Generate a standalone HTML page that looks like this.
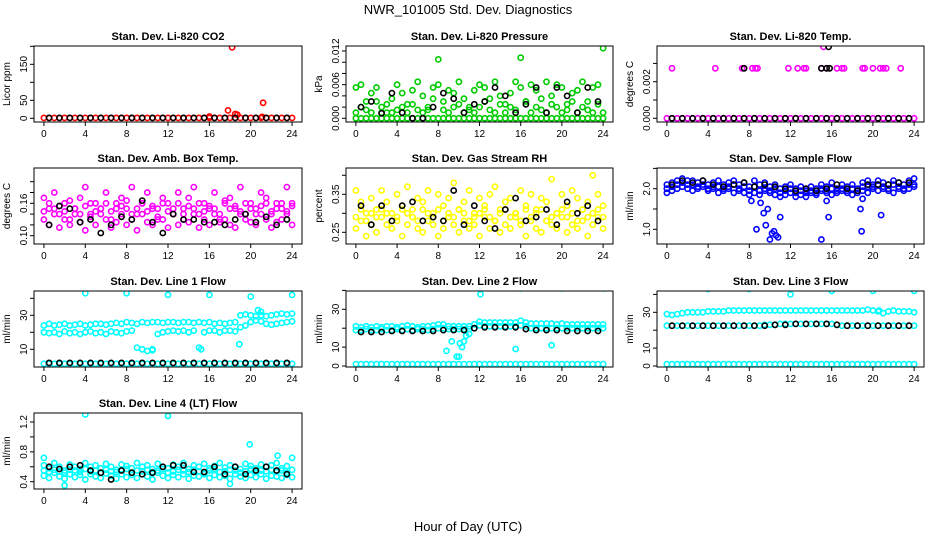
<!DOCTYPE html>
<html><head><meta charset="utf-8"><style>
html,body{margin:0;padding:0;background:#fff}
svg{display:block;font-family:"Liberation Sans",Arial,sans-serif}
</style></head><body>
<svg id="chart" width="936" height="540" viewBox="0 0 936 540" xmlns="http://www.w3.org/2000/svg">
<rect width="936" height="540" fill="#fff"/>
<text x="468" y="14" font-size="13" text-anchor="middle">NWR_101005 Std. Dev. Diagnostics</text>
<text x="468" y="531" font-size="13" text-anchor="middle">Hour of Day (UTC)</text>
</svg>
<script>
const hours=[0,0.5,1,1.5,2,2.5,3,3.5,4,4.5,5,5.5,6,6.5,7,7.5,8,8.5,9,9.5,10,10.5,11,11.5,12,12.5,13,13.5,14,14.5,15,15.5,16,16.5,17,17.5,18,18.5,19,19.5,20,20.5,21,21.5,22,22.5,23,23.5,24];
const hoursB=[0.5,1.5,2.5,3.5,4.5,5.5,6.5,7.5,8.5,9.5,10.5,11.5,12.5,13.5,14.5,15.5,16.5,17.5,18.5,19.5,20.5,21.5,22.5,23.5];
const xTicks=[0,4,8,12,16,20,24];

const co2=[1,1,1,1,1,1,1,1,1,1,1,1,1,1,1,1,1,1,1,1,1,1,1,1,1,1,1,1,1,1,1,1,1,1,1,1,1,1,1,1,1,1,1,1,1,1,1,1,1];
const co2OutX=[16,17.8,18.2,18.5,18.7,21.1,21.2];
const co2OutY=[5,22,197,12,10,4,43];
const co2Black=[1,1,1,1,1,1,1,1,1,1,1,1,1,1,1,1,1,1,1,1,1,1,1,1];
const pressZero=[0,0,0,0,0,0,0,0,0,0,0,0,0,0,0,0,0,0,0,0,0,0,0,0,0,0,0,0,0,0,0,0,0,0,0,0,0,0,0,0,0,0,0,0,0,0,0,0,0];
const pressA=[0.0055,0.006,0.003,0.0045,0.0055,0.002,0.001,0.0035,0.006,0.0045,0.0025,0.005,0.0065,0.004,0.0015,0.0055,0.006,0.003,0.005,0.0045,0.0065,0.0035,0.002,0.005,0.006,0.0055,0.0035,0.0065,0.004,0.0025,0.0045,0.0065,0.0055,0.003,0.006,0.005,0.0035,0.0065,0.004,0.006,0.0055,0.0025,0.0045,0.005,0.0065,0.003,0.0055,0.006,0.0125];
const pressB=[0.001,0.002,0.0015,0.001,0.003,0.001,0.0025,0.001,0.0015,0.002,0.001,0.0025,0.0015,0.001,0.002,0.0035,0.0105,0.0015,0.001,0.002,0.0025,0.001,0.0015,0.001,0.002,0.003,0.0015,0.001,0.0025,0.001,0.002,0.0015,0.0108,0.003,0.001,0.002,0.0015,0.001,0.0025,0.002,0.001,0.0015,0.003,0.001,0.002,0.0015,0.001,0.0025,0.001];
const pressBlack=[0.002,0.003,0.0009,0.0045,0.001,0,0,0.002,0.0045,0.0035,0.001,0.0025,0.003,0.0055,0.004,0.001,0.0025,0.0055,0.001,0.0055,0.004,0.001,0.0055,0.003];
const tempZero=pressZero;
const tempHiX=[0.5,4.7,7.3,8.3,8.6,8.8,11.8,12.7,13.3,13.5,15,15.5,16.5,17,17.2,19,19.2,20,20.7,21,21.3,22.7,15.2];
const tempHiY=[0.00273,0.00273,0.00273,0.00273,0.00273,0.00273,0.00273,0.00273,0.00273,0.00273,0.00273,0.00273,0.00273,0.00273,0.00273,0.00273,0.00273,0.00273,0.00273,0.00273,0.00273,0.00273,0.0039];
const tempBlack=[0,0,0,0,0,0,0,0,0,0,0,0,0,0,0,0,0,0,0,0,0,0,0,0];
const tempBlackHiX=[7.5,15,15.5,15.8,15.7];
const tempBlackHiY=[0.00273,0.00273,0.00273,0.00273,0.0039];
const ambA=[0.17,0.15,0.18,0.14,0.16,0.13,0.15,0.17,0.19,0.14,0.16,0.15,0.18,0.13,0.16,0.17,0.15,0.19,0.14,0.16,0.18,0.15,0.13,0.17,0.16,0.14,0.18,0.15,0.17,0.19,0.14,0.16,0.15,0.18,0.13,0.16,0.17,0.15,0.19,0.14,0.16,0.15,0.18,0.17,0.14,0.16,0.15,0.19,0.16];
const ambB=[0.13,0.12,0.14,0.115,0.13,0.12,0.14,0.125,0.11,0.135,0.12,0.14,0.13,0.115,0.125,0.14,0.12,0.13,0.11,0.14,0.125,0.12,0.135,0.13,0.115,0.14,0.12,0.13,0.125,0.14,0.115,0.13,0.12,0.14,0.125,0.13,0.12,0.115,0.14,0.13,0.125,0.12,0.14,0.13,0.115,0.125,0.13,0.14,0.12];
const ambC=[0.145,0.16,0.15,0.155,0.145,0.165,0.15,0.14,0.155,0.16,0.145,0.15,0.16,0.145,0.15,0.155,0.165,0.14,0.15,0.16,0.145,0.155,0.15,0.16,0.145,0.15,0.16,0.14,0.155,0.15,0.16,0.145,0.155,0.15,0.14,0.165,0.15,0.155,0.145,0.16,0.15,0.14,0.155,0.16,0.145,0.15,0.16,0.145,0.155];
const ambBlack=[0.12,0.155,0.15,0.125,0.13,0.105,0.12,0.135,0.13,0.165,0.125,0.105,0.14,0.13,0.13,0.125,0.125,0.12,0.13,0.14,0.125,0.135,0.12,0.13];
const rhA=[0.36,0.33,0.30,0.34,0.31,0.36,0.33,0.30,0.35,0.32,0.37,0.31,0.34,0.33,0.36,0.30,0.35,0.32,0.34,0.38,0.31,0.33,0.36,0.30,0.34,0.32,0.35,0.37,0.31,0.33,0.34,0.30,0.36,0.32,0.35,0.31,0.34,0.33,0.39,0.30,0.35,0.32,0.36,0.34,0.31,0.33,0.40,0.35,0.32];
const rhB=[0.26,0.28,0.24,0.27,0.25,0.29,0.27,0.26,0.28,0.24,0.27,0.29,0.26,0.25,0.28,0.27,0.24,0.26,0.29,0.27,0.25,0.28,0.26,0.27,0.24,0.29,0.26,0.28,0.25,0.27,0.26,0.29,0.27,0.24,0.28,0.26,0.25,0.28,0.27,0.26,0.29,0.25,0.27,0.26,0.28,0.24,0.27,0.29,0.26];
const rhC=[0.29,0.31,0.28,0.30,0.29,0.31,0.30,0.28,0.29,0.31,0.30,0.29,0.28,0.31,0.30,0.29,0.31,0.28,0.30,0.29,0.31,0.30,0.28,0.29,0.30,0.31,0.29,0.28,0.30,0.31,0.29,0.30,0.28,0.31,0.29,0.30,0.31,0.28,0.29,0.30,0.31,0.29,0.30,0.28,0.31,0.29,0.30,0.31,0.29];
const rhBlack=[0.32,0.27,0.32,0.28,0.32,0.33,0.28,0.29,0.28,0.36,0.27,0.32,0.28,0.26,0.31,0.34,0.28,0.29,0.31,0.27,0.33,0.30,0.32,0.28];
const flowA=[2.1,2.15,2.2,2.25,2.2,2.2,2.15,2.2,2.1,2.15,2.2,2.1,2.15,2.2,2.1,2.15,2.05,2.2,2.1,2.15,2.05,2.1,2.0,2.05,2.1,2.0,2.05,1.95,2.05,2.0,2.1,2.05,2.15,2.0,2.1,2.05,2.1,2.0,2.15,2.2,2.1,2.2,2.15,2.1,2.2,2.15,2.1,2.2,2.25];
const flowB=[1.9,1.95,2.0,2.05,2.0,1.95,2.0,2.05,1.95,2.0,1.9,1.95,2.0,1.9,1.95,1.9,1.85,1.9,1.85,1.95,1.9,1.85,1.8,1.85,1.9,1.8,1.85,1.8,1.9,1.85,1.95,1.9,1.85,1.9,1.95,1.9,1.85,1.9,1.95,1.9,2.0,1.95,2.0,1.95,1.9,2.0,1.95,2.0,2.05];
const flowC=[2.0,2.05,2.1,2.15,2.1,2.1,2.05,2.1,2.0,2.05,2.05,2.0,2.05,2.1,2.0,2.05,1.95,2.05,1.95,2.0,1.95,2.0,1.9,1.95,2.0,1.9,1.95,1.9,1.95,1.9,2.0,1.95,2.0,1.95,2.0,1.95,2.0,1.95,2.05,2.05,2.05,2.1,2.05,2.0,2.1,2.05,2.0,2.1,2.1];
const flowOutX=[8.2,8.7,9.1,9.4,9.6,9.8,10,10.2,10.4,10.6,10.8,11,15,15.7,15.5,18.8,18.9,19,20.8,23.9];
const flowOutY=[1.7,1.0,1.65,1.4,1.1,1.5,0.75,0.9,0.95,0.85,0.8,1.3,0.75,1.3,1.7,1.5,0.95,1.75,1.35,2.6];
const flowBlack=[2.1,2.2,2.15,2.2,2.1,2.05,2.1,2.15,2.05,2.1,2.05,2.0,1.95,2.0,1.95,2.0,2.1,2.0,1.95,2.1,2.1,2.1,2.15,2.15];
const l1A=[24,25,24,24.5,25,24,24.5,25,24,24.5,25,25,24.5,25,25.5,25,26,25.5,25,26,25.5,26,26,25.5,26,26,25.5,26,26,25.5,26,25.5,26,25,25.5,25,25.5,26,30,30.5,30,29.5,30,29.5,30,30.5,31,30.5,31];
const l1B=[20,19.5,20,19,20.5,19.5,20,19,20,20.5,19.5,20,19,20.5,20,19.5,20.5,21,11,10,9,9.5,19,20,20.5,21,20.5,21,20,21,11,20,21,21,20,21,21,20.5,23,24,26,27,26.5,25,24.5,25,25.5,26,26.5];
const l1Z=[1.5,1.5,1.5,1.5,1.5,1.5,1.5,1.5,1.5,1.5,1.5,1.5,1.5,1.5,1.5,1.5,1.5,1.5,1.5,1.5,1.5,1.5,1.5,1.5,1.5,1.5,1.5,1.5,1.5,1.5,1.5,1.5,1.5,1.5,1.5,1.5,1.5,1.5,1.5,1.5,1.5,1.5,1.5,1.5,1.5,1.5,1.5,1.5,1.5];
const l1OutX=[4,8,12,16,20,24,20.7,21,18.9,10.5,15.2];
const l1OutY=[43,43,42,42,41,42,33,32,13,10,10];
const l1Black=[2,2,2,2,2,2,2,2,2,2,2,2,2,2,2,2,2,2,2,2,2,2,2,2];
const l2A=[21,20.5,21,20.5,21,20.5,21,21,20.5,21,21.5,21,20.5,21,21,21.5,22,22,21,21,21,21,21,22,23.5,23,23,23,23,23,23,23,24,23,22.5,22.5,22.5,22.5,22.5,22,22.5,22,22,22,22,22,22,22,22];
const l2B=[19,19,19.5,19,19,19.5,19,19,19.5,19,19.5,19,19.5,19.5,19,19.5,20,20,19.5,19.5,19.5,19.5,19.5,20,21.5,21,21,21,21,21,21,21,21.5,21,20,20,20,20,20,20,20,20,20,20,20,20,20,20,20];
const l2Z=[1,1,1,1,1,1,1,1,1,1,1,1,1,1,1,1,1,1,1,1,1,1,1,1,1,1,1,1,1,1,1,1,1,1,1,1,1,1,1,1,1,1,1,1,1,1,1,1,1];
const l2OutX=[4,8,12.1,16,20,24,8.8,9.3,9.8,10,10.1,10.3,10.5,10.7,11,15.5,19];
const l2OutY=[42,43,38,41,41,41,8,13,5,5,12,10,13,16,17,9,11];
const l2Black=[18,18,18,18.5,18.5,18.5,18.5,18.5,19,19,19,20,20.5,20.5,20.5,20.5,19.5,19,19,19,18.5,18.5,18.5,18.5];
const l3A=[29,28.5,29,29.5,30,30,30,30,30.5,30.5,30.5,30.5,31,31,31,31,31,31,31,31,31,31,31,31,31,31,31,31,31,31,31,31,31,31,31,31,31,31,31,31.5,31,30.5,29.5,30.5,31,30.5,30.5,30.5,30];
const l3B=[22.5,22.5,22.5,22.5,22.5,22.5,22.5,22.5,22.5,22.5,22.5,22.5,22.5,22.5,22.5,22.5,22.5,22.5,22.5,23,23,23,23.5,23.5,23.5,23.5,23.5,23.5,23.5,23.5,23.5,23.5,23.5,23,22.5,22.5,22.5,22.5,22.5,22.5,22.5,22.5,22.5,22.5,22.5,22.5,22.5,22.5,22.5];
const l3Z=l2Z;
const l3OutX=[4,8,12,16,20,24,20.6];
const l3OutY=[43,43,40,42,42,42,31];
const l3Black=[22.5,22.5,22.5,22.5,22.5,22.5,22.5,22.5,22.5,22.5,23,23,23.5,23.5,23.5,23.5,23,22.5,22.5,22.5,22.5,22.5,22.5,22.5];
const l4A=[0.62,0.58,0.65,0.6,0.55,0.63,0.6,0.57,0.65,0.6,0.62,0.58,0.64,0.6,0.56,0.63,0.61,0.58,0.65,0.6,0.62,0.57,0.64,0.6,0.58,0.63,0.6,0.65,0.57,0.62,0.6,0.64,0.58,0.61,0.65,0.59,0.62,0.6,0.57,0.64,0.61,0.58,0.63,0.6,0.62,0.65,0.58,0.61,0.72];
const l4B=[0.48,0.45,0.52,0.47,0.44,0.5,0.46,0.49,0.43,0.5,0.47,0.45,0.51,0.48,0.44,0.5,0.46,0.49,0.45,0.5,0.47,0.43,0.52,0.48,0.45,0.49,0.46,0.5,0.44,0.48,0.47,0.5,0.45,0.49,0.46,0.48,0.44,0.5,0.47,0.45,0.49,0.46,0.5,0.44,0.48,0.47,0.45,0.49,0.46];
const l4C=[0.55,0.53,0.56,0.54,0.52,0.56,0.55,0.53,0.57,0.54,0.55,0.52,0.56,0.54,0.53,0.55,0.57,0.52,0.55,0.54,0.56,0.53,0.55,0.57,0.52,0.54,0.56,0.55,0.53,0.56,0.54,0.52,0.55,0.57,0.53,0.54,0.56,0.55,0.52,0.54,0.57,0.53,0.55,0.54,0.56,0.53,0.55,0.52,0.56];
const l4OutX=[4,12,19.9,2,18,22.6,0];
const l4OutY=[1.3,1.28,0.9,0.35,0.37,0.75,0.72];
const l4Black=[0.6,0.57,0.6,0.62,0.55,0.52,0.43,0.55,0.52,0.5,0.52,0.6,0.62,0.62,0.53,0.53,0.6,0.5,0.6,0.5,0.55,0.6,0.55,0.5];

const svg=document.getElementById('chart');
const NS='http://www.w3.org/2000/svg';
function mk(tag,attrs,parent){const e=document.createElementNS(NS,tag);for(const k in attrs)e.setAttribute(k,attrs[k]);(parent||svg).appendChild(e);return e;}
const colL=[34,346,657],colR=[302,613,924];
const rowT=[46,168,291,413],rowB=[122,244,367,489];

const panels=[
 {id:'co2',title:'Stan. Dev. Li-820 CO2',ylab:'Licor ppm',c:0,r:0,cal:[0,118.3,150,64.3],ticks:[0,50,100,150,200],labels:['0','50','','150',''],col:'#ff0000',
  series:[[hours,co2,'c'],[co2OutX,co2OutY,'c'],[hoursB,co2Black,'k']]},
 {id:'pressure',title:'Stan. Dev. Li-820 Pressure',ylab:'kPa',c:1,r:0,cal:[0,118.3,0.012,51],ticks:[0,0.002,0.004,0.006,0.008,0.01,0.012],labels:['0.000','','','0.006','','','0.012'],col:'#00cc00',
  series:[[hours,pressZero,'c'],[hours,pressA,'c'],[hours,pressB,'c'],[hoursB,pressBlack,'k']]},
 {id:'li820-temp',title:'Stan. Dev. Li-820 Temp.',ylab:'degrees C',c:2,r:0,cal:[0,118.3,0.002,81.7],ticks:[0,0.001,0.002,0.003],labels:['0.000','','0.002',''],col:'#ff00ff',
  series:[[hours,tempZero,'c'],[tempHiX,tempHiY,'c'],[hoursB,tempBlack,'k'],[tempBlackHiX,tempBlackHiY,'k']]},
 {id:'amb-box-temp',title:'Stan. Dev. Amb. Box Temp.',ylab:'degrees C',c:0,r:1,cal:[0.10,235.7,0.16,203.3],ticks:[0.10,0.12,0.14,0.16,0.18,0.20],labels:['0.10','','','0.16','',''],col:'#ff00ff',
  series:[[hours,ambA,'c'],[hours,ambB,'c'],[hours,ambC,'c'],[hoursB,ambBlack,'k']]},
 {id:'gas-stream-rh',title:'Stan. Dev. Gas Stream RH',ylab:'percent',c:1,r:1,cal:[0.25,232.3,0.35,194.3],ticks:[0.25,0.30,0.35,0.40],labels:['0.25','','0.35',''],col:'#ffff00',
  series:[[hours,rhA,'c'],[hours,rhB,'c'],[hours,rhC,'c'],[hoursB,rhBlack,'k']]},
 {id:'sample-flow',title:'Stan. Dev. Sample Flow',ylab:'ml/min',c:2,r:1,cal:[1.0,229.3,2.0,188.7],ticks:[1.0,1.5,2.0,2.5],labels:['1.0','','2.0',''],col:'#0000ff',
  series:[[hours,flowA,'c'],[hours,flowB,'c'],[hours,flowC,'c'],[flowOutX,flowOutY,'c'],[hoursB,flowBlack,'k']]},
 {id:'line1-flow',title:'Stan. Dev. Line 1 Flow',ylab:'ml/min',c:0,r:2,cal:[10,349.3,30,315.3],ticks:[10,20,30,40],labels:['10','','30',''],col:'#00ffff',
  series:[[hours,l1A,'c'],[hours,l1B,'c'],[hours,l1Z,'c'],[l1OutX,l1OutY,'c'],[hoursB,l1Black,'k']]},
 {id:'line2-flow',title:'Stan. Dev. Line 2 Flow',ylab:'ml/min',c:1,r:2,cal:[0,366,30,309.3],ticks:[0,10,20,30,40],labels:['0','10','','30',''],col:'#00ffff',
  series:[[hours,l2A,'c'],[hours,l2B,'c'],[hours,l2Z,'c'],[l2OutX,l2OutY,'c'],[hoursB,l2Black,'k']]},
 {id:'line3-flow',title:'Stan. Dev. Line 3 Flow',ylab:'ml/min',c:2,r:2,cal:[0,366,30,312.3],ticks:[0,10,20,30,40],labels:['0','10','','30',''],col:'#00ffff',
  series:[[hours,l3A,'c'],[hours,l3B,'c'],[hours,l3Z,'c'],[l3OutX,l3OutY,'c'],[hoursB,l3Black,'k']]},
 {id:'line4-flow',title:'Stan. Dev. Line 4 (LT) Flow',ylab:'ml/min',c:0,r:3,cal:[0.4,481.7,1.2,422],ticks:[0.4,0.6,0.8,1.0,1.2],labels:['0.4','','0.8','','1.2'],col:'#00ffff',
  series:[[hours,l4A,'c'],[hours,l4B,'c'],[hours,l4C,'c'],[l4OutX,l4OutY,'c'],[hoursB,l4Black,'k']]}
];

panels.forEach(p=>{
  const L=colL[p.c],R=colR[p.c],T=rowT[p.r],B=rowB[p.r];
  const g=mk('g',{});
  
  
  const xs=h=>L+(h+0.96)/25.92*(R-L);
  const [v1,p1,v2,p2]=p.cal;
  const ys=v=>p1+(v-v1)*(p2-p1)/(v2-v1);
  const clip='clip-'+p.id;
  const cp=mk('clipPath',{id:clip},g);mk('rect',{x:L,y:T,width:R-L,height:B-T},cp);
  const t=mk('text',{x:(L+R)/2,y:T-6,'font-size':11,'font-weight':'bold','text-anchor':'middle'},g);
  
  
  t.textContent=p.title;
  const yl=mk('text',{x:0,y:0,'font-size':10,'text-anchor':'middle',transform:`translate(${L-24},${(T+B)/2}) rotate(-90)`},g);
  
  
  yl.textContent=p.ylab;
  const pg=mk('g',{'clip-path':`url(#${clip})`,fill:'none','stroke-width':1.6},g);
  
  
  p.series.forEach(s=>{
    const [X,Y,k]=s;
    X.forEach((h,i)=>{
      if(Y[i]===undefined)return;
      const c=mk('circle',{cx:xs(h).toFixed(1),cy:ys(Y[i]).toFixed(1),r:2.6,stroke:k==='k'?'#000':p.col},pg);
      
      
    });
  });
  const box=mk('rect',{x:L,y:T,width:R-L,height:B-T,fill:'none',stroke:'#000','stroke-width':1},g);
  
  
  mk('line',{x1:xs(0),x2:xs(24),y1:B,y2:B,stroke:'#000'},g);
  xTicks.forEach(v=>{
    mk('line',{x1:xs(v),x2:xs(v),y1:B,y2:B+4,stroke:'#000'},g);
    const tl=mk('text',{x:xs(v),y:B+15,'font-size':10,'text-anchor':'middle'},g);
    
    
    tl.textContent=v;
  });
  p.ticks.forEach((v,i)=>{
    const y=ys(v); if(y<T-1||y>B+1)return;
    mk('line',{x1:L-4,x2:L,y1:y,y2:y,stroke:'#000'},g);
    if(p.labels[i]){
      const tl=mk('text',{x:0,y:0,'font-size':10,'text-anchor':'middle',transform:`translate(${L-7},${y}) rotate(-90)`},g);
      
      
      tl.textContent=p.labels[i];
    }
  });
});
</script>
</body></html>
